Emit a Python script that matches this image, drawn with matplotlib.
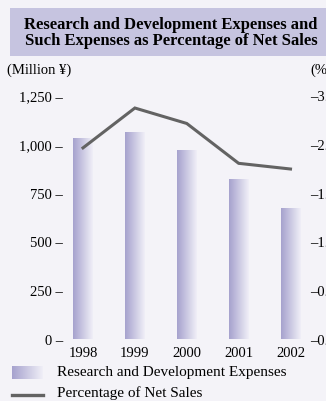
import numpy as np
import matplotlib.pyplot as plt
from matplotlib.colors import LinearSegmentedColormap
from matplotlib.lines import Line2D

years = [1998, 1999, 2000, 2001, 2002]
rd_expenses = [1030, 1060, 968, 820, 671]      # million yen
pct_net_sales = [2.35, 2.84, 2.65, 2.16, 2.09]  # %

left_ticks = [0, 250, 500, 750, 1000, 1250]
left_labels = ["0 –", "250 –", "500 –", "750 –", "1,000 –", "1,250 –"]
right_ticks = [0.0, 0.6, 1.2, 1.8, 2.4, 3.0]
right_labels = ["–0.0", "–0.6", "–1.2", "–1.8", "–2.4", "–3.0"]

title = "Research and Development Expenses and\nSuch Expenses as Percentage of Net Sales"

plt.rcParams['font.family'] = ['Liberation Serif', 'DejaVu Serif']

W, H = 326, 402
bg = '#f4f3f8'
fig = plt.figure(figsize=(W / 100, H / 100), dpi=100, facecolor=bg)

# overlay in pixel coords for title/legend decor
deco = fig.add_axes([0, 0, 1, 1])
deco.set_xlim(0, W)
deco.set_ylim(H, 0)
deco.axis('off')

cmap = LinearSegmentedColormap.from_list('bar', ['#a6a2ce', '#f0eff7'])
grad = np.linspace(0, 1, 64).reshape(1, -1)

# title box
deco.add_patch(plt.Rectangle((10, 9), W - 10, 48, color='#c6c4e0', lw=0))
deco.text(171, 33, title, ha='center', va='center', fontsize=12,
          fontweight='bold', linespacing=1.05)
deco.text(7, 70, "(Million ¥)", ha='left', va='center', fontsize=10.5)
deco.text(310, 70, "(%)", ha='left', va='center', fontsize=10.5)

# legend
deco.imshow(grad, cmap=cmap, extent=[12, 43, 380, 367], aspect='auto')
deco.text(57, 373, "Research and Development Expenses", ha='left', va='center', fontsize=11)
deco.add_line(Line2D([12, 43], [396, 396], color='#636363', lw=2.4))
deco.text(57, 393, "Percentage of Net Sales", ha='left', va='center', fontsize=11)

# main axes
ax_l, ax_r, ax_b, ax_t = 66, 306, 340, 96
ax = fig.add_axes([ax_l / W, (H - ax_b) / H, (ax_r - ax_l) / W, (ax_b - ax_t) / H])
ax.patch.set_alpha(0)
px_per_year = 51.9
xlo = years[0] - (83 - ax_l) / px_per_year
xhi = years[-1] + (ax_r - 290.5) / px_per_year

bars = ax.bar(years, rd_expenses, width=0.37, color='none', lw=0)
for b in bars:
    x0, y0 = b.get_x(), b.get_y()
    im = ax.imshow(grad, cmap=cmap, aspect='auto', zorder=2,
                   extent=[x0, x0 + b.get_width(), y0, y0 + b.get_height()])
    im.set_clip_path(b)

ax.set_xlim(xlo, xhi)
ax.set_ylim(0, 1250)
ax.set_xticks(years)
ax.set_xticklabels([str(y) for y in years], fontsize=10.5)
ax.set_yticks(left_ticks)
ax.set_yticklabels(left_labels, fontsize=10.5)
ax.tick_params(length=0)
ax.tick_params(axis='x', pad=5)
ax.tick_params(axis='y', pad=2)
for s in ax.spines.values():
    s.set_visible(False)

ax2 = ax.twinx()
ax2.plot(years, pct_net_sales, color='#636363', lw=2.2, solid_joinstyle='miter')
ax2.set_ylim(0, 3.0)
ax2.set_yticks(right_ticks)
ax2.set_yticklabels(right_labels, fontsize=10.5)
ax2.tick_params(length=0, pad=3)
for s in ax2.spines.values():
    s.set_visible(False)

fig.savefig('out.png', dpi=100, facecolor=bg)
